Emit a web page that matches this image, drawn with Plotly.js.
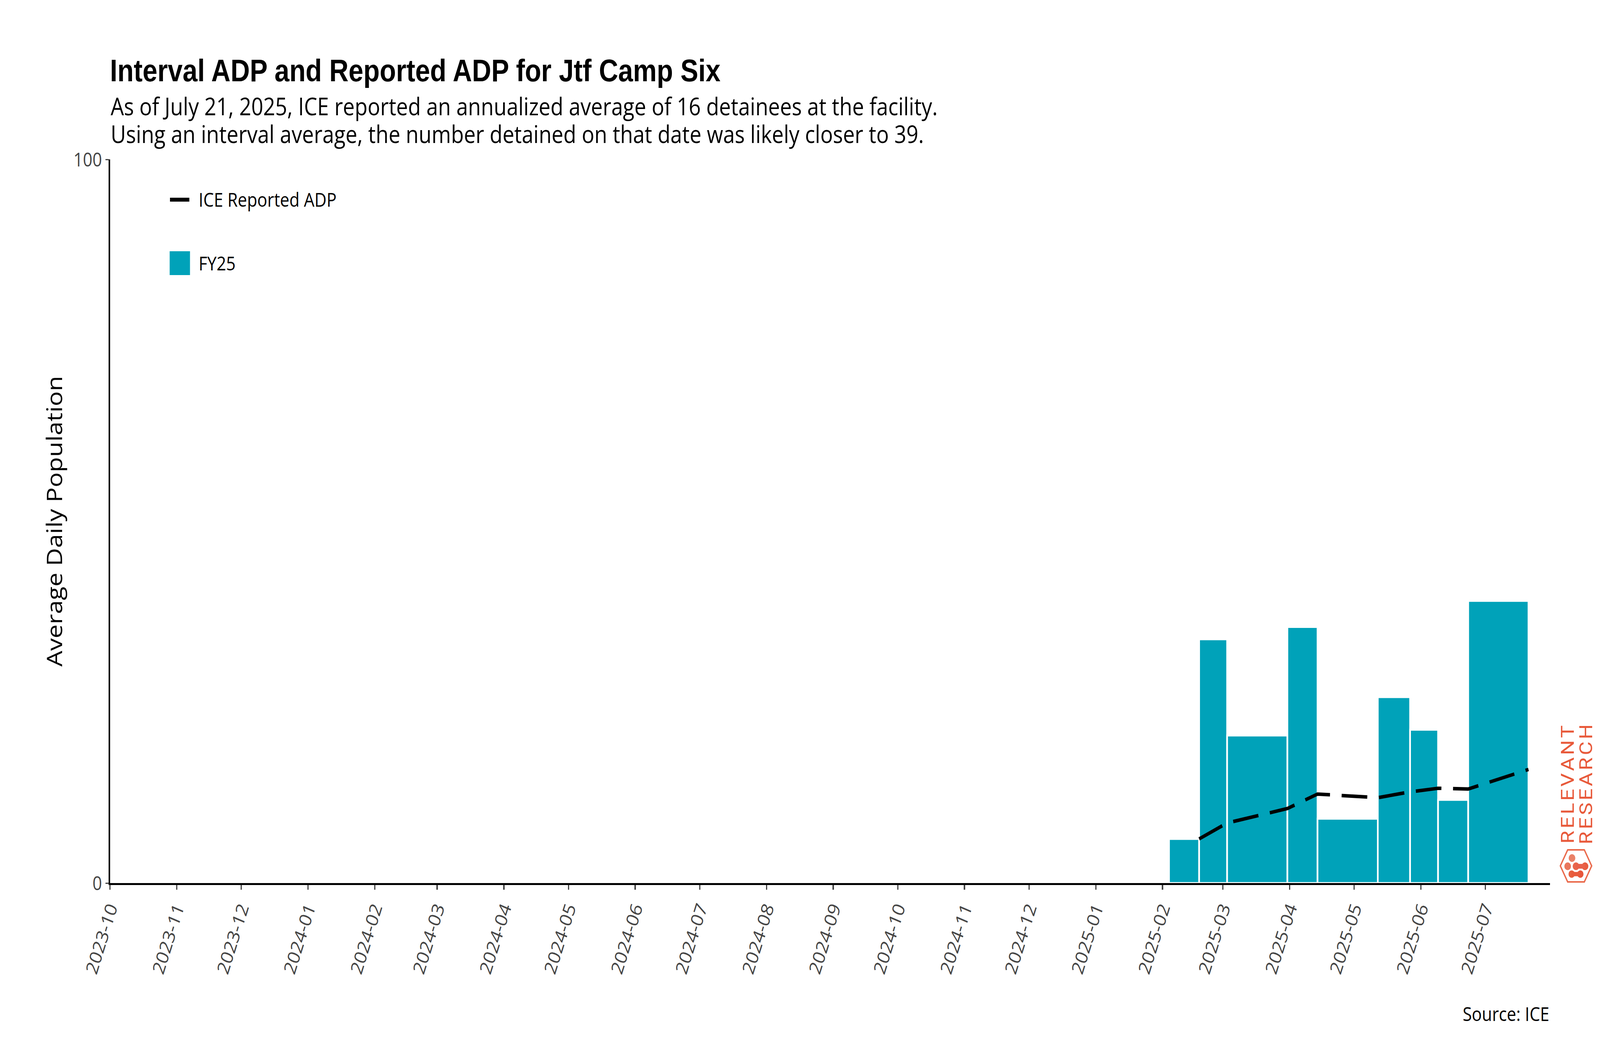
<!DOCTYPE html>
<html>
<head>
<meta charset="utf-8">
<script src="https://cdn.plot.ly/plotly-3.0.1.min.js"></script>
<style>
	html, body { margin: 0; padding: 0; background: #ffffff; overflow: hidden; }
	#graphDiv { width: 4800px; height: 2700px; transform-origin: 0 0; }
</style>
</head>
<body>
<div id="graphDiv"></div>
<script>
// ICE reporting dates: each bar covers one interval between two dates
const reportDates = ['2025-02-04', '2025-02-18', '2025-03-03', '2025-03-31', '2025-04-14',
	'2025-05-12', '2025-05-27', '2025-06-09', '2025-06-23', '2025-07-21'];
// Interval ADP for each interval (FY25)
const intervalADP = [6.1, 33.7, 20.4, 35.4, 8.9, 25.7, 21.2, 11.5, 39.0];
// ICE reported (annualized) ADP at the end of each interval
const reportedADP = [6.1, 8.3, 10.3, 12.3, 11.8, 12.6, 13.1, 13.0, 15.7];

const xRange = ['2023-10-01', '2025-07-31'];
const yTicks = [0, 100];

const teal = '#00A2B9';
const logoRed = '#E8593A';
const baseFont = 'Open Sans, Noto Sans, sans-serif';

// Design size; the page is stretched to the window afterwards
const W = 4800, H = 2700;
const M = { l: 330, r: 150, t: 408, b: 440 };
const plotW = W - M.l - M.r;
const plotH = H - M.t - M.b;
function px(x) { return (x - M.l) / plotW; }
function py(y) { return (H - M.b - y) / plotH; }

// Bars from consecutive report dates
const barStart = reportDates.slice(0, -1);
const barWidth = barStart.map((d, i) => Date.parse(reportDates[i + 1]) - Date.parse(d));

const bars = {
	type: 'bar',
	name: 'FY25',
	x: barStart,
	y: intervalADP,
	width: barWidth,
	offset: 0,
	marker: { color: teal, line: { color: '#ffffff', width: 5 } },
	hoverinfo: 'skip',
	showlegend: false,
};

const reported = {
	type: 'scatter',
	mode: 'lines',
	name: 'ICE Reported ADP',
	x: reportDates.slice(1),
	y: reportedADP,
	line: { color: '#000000', width: 9, dash: '77px,35px' },
	hoverinfo: 'skip',
	showlegend: false,
};

// Logo hexagon and dots
function hexPath() {
	const pts = [[4681, 2216], [4703, 2175], [4753, 2175], [4775, 2216], [4753, 2257], [4703, 2257]];
	return 'M' + pts.map(p => px(p[0]) + ',' + py(p[1])).join('L') + 'Z';
}
function dot(cx, cy, r, color) {
	return {
		type: 'circle', xref: 'paper', yref: 'paper',
		x0: px(cx - r), x1: px(cx + r), y0: py(cy + r), y1: py(cy - r),
		fillcolor: color, line: { width: 0 },
	};
}
function neck(xa, xb, cy, h, color) {
	return {
		type: 'rect', xref: 'paper', yref: 'paper',
		x0: px(xa), x1: px(xb), y0: py(cy + h), y1: py(cy - h),
		fillcolor: color, line: { width: 0 },
	};
}

const shapes = [
	// legend keys
	{ type: 'line', xref: 'paper', yref: 'paper', x0: px(510), x1: px(568), y0: py(511), y1: py(511),
		line: { color: '#000000', width: 10 } },
	{ type: 'rect', xref: 'paper', yref: 'paper', x0: px(509), x1: px(570), y0: py(704), y1: py(643),
		fillcolor: teal, line: { width: 0 } },
	// logo
	{ type: 'path', xref: 'paper', yref: 'paper', path: hexPath(), line: { color: '#EA6B4D', width: 4 } },
	dot(4716, 2196, 10, '#E98066'),
	dot(4703, 2217, 10, '#E9765C'),
	dot(4728, 2217, 10, '#E9654A'),
	dot(4755, 2217, 10, '#E85D40'),
	neck(4728, 4755, 2217, 6, '#E9614A'),
	dot(4715, 2237, 9.5, '#E8603F'),
	dot(4741, 2237, 9.5, '#E8553A'),
	neck(4715, 4741, 2237, 5.5, '#E85A3C'),
];

// Subtitle lines share one text box; line pitch is 1.3 x the base size
const subSpan = s => '<span style="font-size:63px">' + s + '</span>';
const hair = '\u200A';
const annotations = [
	{ text: subSpan('As of July 21, 2025, ICE reported an annualized average of 16 detainees at the facility.') +
		'<br>' + subSpan('Using an interval average, the number detained on that date was likely closer to 39.'),
		xref: 'paper', yref: 'paper', x: 0, y: py(306), xanchor: 'left', yanchor: 'middle', align: 'left',
		showarrow: false, font: { family: baseFont, size: 54.6, color: '#000000' } },
	{ text: 'ICE Reported ADP', xref: 'paper', yref: 'paper', x: px(594), y: py(510),
		xanchor: 'left', yanchor: 'middle', showarrow: false,
		font: { family: baseFont, size: 50, color: '#000000' } },
	{ text: 'FY25', xref: 'paper', yref: 'paper', x: px(594), y: py(673),
		xanchor: 'left', yanchor: 'middle', showarrow: false,
		font: { family: baseFont, size: 50, color: '#000000' } },
	{ text: 'Source: ICE', xref: 'paper', yref: 'paper', x: 1, y: py(2594),
		xanchor: 'right', yanchor: 'middle', showarrow: false,
		font: { family: baseFont, size: 50, color: '#000000' } },
	{ text: 'RELEVANT'.split('').join(hair), xref: 'paper', yref: 'paper', x: px(4702), y: py(2008),
		xanchor: 'center', yanchor: 'middle', textangle: -90, showarrow: false,
		font: { family: 'Roboto, sans-serif', size: 54, color: logoRed } },
	{ text: 'RESEARCH'.split('').join(hair), xref: 'paper', yref: 'paper', x: px(4757), y: py(2008),
		xanchor: 'center', yanchor: 'middle', textangle: -90, showarrow: false,
		font: { family: 'Roboto, sans-serif', size: 54, color: logoRed } },
];

const layout = {
	width: W,
	height: H,
	margin: M,
	paper_bgcolor: '#ffffff',
	plot_bgcolor: '#ffffff',
	showlegend: false,
	font: { family: baseFont, size: 50, color: '#000000' },
	title: {
		text: 'Interval ADP and Reported ADP for Jtf Camp Six',
		font: { family: 'Liberation Sans, Arial, sans-serif', size: 80, weight: 'bold', color: '#000000' },
		xref: 'paper', x: 0, xanchor: 'left',
		yref: 'container', y: 1 - 180 / H, yanchor: 'middle',
	},
	xaxis: {
		type: 'date',
		range: xRange,
		dtick: 'M1',
		tick0: '2023-10-01',
		tickformat: '%Y-%m',
		tickangle: -70,
		ticks: 'outside',
		ticklen: 12,
		tickwidth: 4,
		tickcolor: '#444444',
		tickfont: { family: baseFont, size: 50, color: '#444444' },
		showline: true,
		linecolor: '#000000',
		linewidth: 5,
		showgrid: false,
		zeroline: false,
		fixedrange: true,
	},
	yaxis: {
		range: [0, 100],
		tickvals: yTicks,
		ticktext: yTicks.map(String),
		ticks: 'outside',
		ticklen: 10,
		tickwidth: 3,
		tickcolor: '#444444',
		tickfont: { family: baseFont, size: 50, color: '#444444' },
		showline: true,
		linecolor: '#000000',
		linewidth: 4,
		showgrid: false,
		zeroline: false,
		fixedrange: true,
		title: { text: 'Average Daily Population', standoff: 14,
			font: { family: baseFont, size: 64, color: '#000000' } },
	},
	shapes: shapes,
	annotations: annotations,
	bargap: 0,
};

// The window may be narrower than 4800 px: stretch the design to fill it
function fitToWindow() {
	const sx = window.innerWidth / W;
	const sy = window.innerHeight / H;
	document.getElementById('graphDiv').style.transform = 'scale(' + sx + ',' + sy + ')';
}

Plotly.newPlot('graphDiv', [bars, reported], layout, { displayModeBar: false, staticPlot: true })
	.then(fitToWindow);
</script>
</body>
</html>
